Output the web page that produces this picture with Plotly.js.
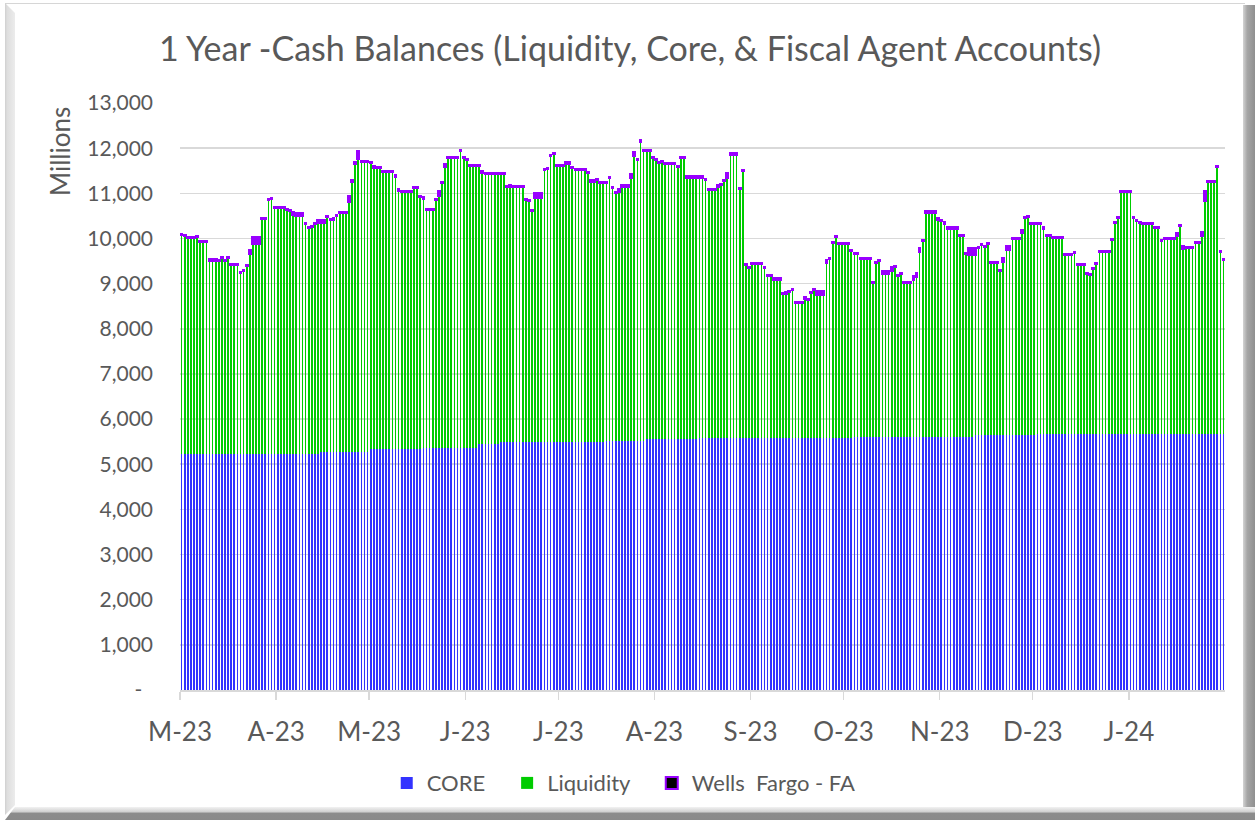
<!DOCTYPE html>
<html>
<head>
<meta charset="utf-8">
<script src="https://cdn.plot.ly/plotly-3.0.1.min.js"></script>
<style>
  html, body { margin:0; padding:0; background:#ffffff; }
  #wrap { position:relative; width:1255px; height:820px; overflow:hidden; background:#ffffff; }
  #chart { position:absolute; left:0; top:0; width:1255px; height:820px; z-index:2; }
  .fr { position:absolute; z-index:1; }
  #ftop { left:5px; top:3px; width:1240px; height:1px; background:#d6d6d6; }
  #fleft { left:5px; top:3px; width:10px; height:812px; background:linear-gradient(to right,#cfcfcf 0,#dedede 20%,#ececec 100%); clip-path:polygon(0 0,100% 10px,100% calc(100% - 10px),0 100%); }
  #fright { left:1243px; top:5px; width:12px; height:815px; background:linear-gradient(to right,#d4d4d4 0,#a6a6a6 35%,#8f8f8f 100%); }
  #fbottom { left:5px; top:807px; width:1250px; height:13px; background:linear-gradient(to bottom,#f2f2f2 0,#d2d2d2 35%,#8c8c8c 50%,#8a8a8a 100%); clip-path:polygon(10px 0,100% 0,100% 100%,0 100%); }
</style>
</head>
<body>
<div id="wrap">
  <div class="fr" id="ftop"></div>
  <div class="fr" id="fleft"></div>
  <div class="fr" id="fright"></div>
  <div class="fr" id="fbottom"></div>
  <div id="chart"></div>
</div>
<script>
// ---------------- DATA (millions, daily, 2023-03-01 .. 2024-01-31) ----------------
const startDate = '2023-03-01';
const monthTickDates = ['2023-03-01','2023-04-01','2023-05-01','2023-06-01','2023-07-01','2023-08-01','2023-09-01','2023-10-01','2023-11-01','2023-12-01','2024-01-01'];
const monthTickLabels = ['M-23','A-23','M-23','J-23','J-23','A-23','S-23','O-23','N-23','D-23','J-24'];
const yTickVals = [0,1000,2000,3000,4000,5000,6000,7000,8000,9000,10000,11000,12000,13000];
const yTickText = ['-\u00a0\u00a0','1,000','2,000','3,000','4,000','5,000','6,000','7,000','8,000','9,000','10,000','11,000','12,000','13,000'];

// CORE
const coreMar = [5230,5230,5230,5230,5230,5230,5230,5230,5230,5230,
                 5230,5230,5230,5230,5230,5230,5230,5230,5230,5230,
                 5230,5230,5230,5230,5230,5230,5230,5230,5230,5230,5230];
const coreApr = [5230,5230,5230,5230,5230,5230,5230,5230,5230,5230,5230,5230,5230,5230,
                 5270,5270,5270,5270,5270,5270,5270,5270,5270,5270,5270,5270,5270,5270,5270,5270];
const coreMay = [5345,5345,5345,5345,5345,5345,5345,5345,5345,5345,5345,5345,5345,5345,5345,5345,5345,
                 5365,5365,5365,5365,5365,5365,5365,5365,5365,5365,5365,5365,5365,5365];
const coreJun = [5365,5365,5365,5365,
                 5455,5455,5455,5455,5455,5455,5455,
                 5500,5500,5500,5500,5500,5500,5500,5500,5500,5500,5500,5500,5500,5500,5500,5500,5500,5500,5500];
const coreJul = [5500,5500,5500,5500,5500,5500,5500,5500,5500,5500,5500,5500,5500,5500,5500,
                 5520,5520,5520,5520,5520,5520,5520,5520,5520,5520,5520,5520,5520,
                 5560,5560,5560];
const coreAug = [5560,5560,5560,5560,5560,5560,5560,5560,5560,5560,5560,5560,5560,5560,
                 5590,5590,5590,5590,5590,5590,5590,5590,5590,5590,5590,5590,5590,5590,5590,5590,5590];
const coreSep = [5590,5590,5590,5590,5590,5590,5590,5590,5590,5590,
                 5590,5590,5590,5590,5590,5590,5590,5590,5590,5590,
                 5590,5590,5590,5590,5590,5590,5590,5590,5590,5590];
const coreOct = [5590,5590,5590,
                 5610,5610,5610,5610,5610,5610,5610,5610,5610,5610,5610,5610,5610,5610,
                 5610,5610,5610,5610,5610,5610,5610,5610,5610,5610,5610,5610,5610,5610];
const coreNov = [5610,5610,5610,5610,5610,5610,5610,5610,5610,5610,5610,
                 5640,5640,5640,5640,5640,5640,5640,5640,5640,5640,5640,5640,5640,5640,5640,5640,5640,5640,5640];
const coreDec = [5640,
                 5660,5660,5660,5660,5660,5660,5660,5660,5660,5660,5660,5660,5660,5660,
                 5660,5660,5660,5660,5660,5660,5660,5660,5660,5660,5660,5660,5660,5660,
                 5680,5680];
const coreJan = [5680,5680,5680,5680,5680,5680,5680,5680,5680,5680,
                 5680,5680,5680,5680,5680,5680,5680,5680,5680,5680,
                 5680,5680,5680,5680,5680,5680,5680,5680,5680,5680,5680];

// Liquidity
const liqMar = [4850,4830,4780,4780,4780,4800,4690,4690,4690,4280,4280,4280,4260,4330,4260,4330,4190,4190,4190,4005,4040,4160,4415,4650,4650,4650,5200,5200,5630,5640,5450];
const liqApr = [5450,5450,5450,5390,5370,5280,5260,5260,5260,5080,5000,5030,5080,5120,5080,5080,5210,5130,5150,5220,5300,5300,5300,5530,5990,6390,6480,6430,6430,6430];
const liqMay = [6325,6225,6205,6205,6135,6135,6135,6135,6025,5715,5675,5675,5675,5685,5765,5765,5575,5520,5270,5270,5270,5495,5585,5855,6215,6415,6415,6415,6415,6565,6410];
const liqJun = [6365,6230,6230,6230,6140,6005,5965,5965,5965,5965,5965,5920,5920,5630,5650,5640,5640,5640,5640,5350,5330,5110,5395,5395,5395,6015,6030,6320,6370,6095];
const liqJul = [6095,6095,6160,6160,6060,6020,6015,6015,6015,5940,5760,5760,5800,5735,5735,5715,5820,5595,5480,5500,5630,5630,5630,5810,6305,6220,6625,6425,6385,6385,6215];
const liqAug = [6180,6110,6135,6090,6090,6090,6090,6020,6230,6230,5790,5790,5790,5790,5760,5760,5710,5480,5480,5480,5560,5600,5690,5745,6250,6250,6250,5500,5895,3820,3760];
const liqSep = [3845,3845,3845,3845,3750,3580,3580,3500,3500,3500,3180,3190,3230,3270,2985,2985,2985,3080,3045,3200,3260,3155,3155,3155,3860,3950,4300,4440,4290,4290];
const liqOct = [4290,4290,4130,4050,4050,3930,3930,3930,3930,3410,3850,3890,3600,3600,3600,3680,3765,3560,3595,3410,3410,3410,3480,3530,4080,4335,4965,4965,4965,4965,4810];
const liqNov = [4780,4720,4610,4610,4610,4610,4445,4445,4045,4020,4020,3990,4155,4210,4170,4230,3820,3820,3820,3640,3830,4115,4115,4355,4355,4355,4490,4820,4835,4675];
const liqDec = [4675,4655,4655,4560,4395,4395,4345,4345,4345,4345,3965,3965,3965,4020,3750,3750,3750,3560,3530,3670,3770,4035,4035,4035,4035,4310,4685,4800,5375,5355,5355];
const liqJan = [5355,4780,4700,4670,4630,4630,4630,4630,4560,4560,4265,4300,4300,4300,4300,4380,4590,4095,4115,4115,4115,4210,4210,4375,5145,5560,5560,5560,5900,4020,3840];

// Wells Fargo - FA
const faMar = [25,25,25,25,25,25,25,25,25,25,25,25,25,25,25,25,25,25,25,25,25,25,95,150,150,150,25,25,25,25,25];
const faApr = [25,25,25,25,25,80,80,80,80,25,25,25,25,60,60,60,25,25,25,25,25,25,25,150,25,25,190,25,25,25];
const faMay = [25,25,25,25,25,25,25,25,25,25,25,25,25,25,25,25,25,25,25,25,25,25,100,25,80,25,25,25,25,25,25];
const faJun = [25,25,25,25,25,25,25,25,25,25,25,25,25,25,25,25,25,25,25,25,25,25,115,115,115,25,25,25,25,25];
const faJul = [25,25,25,25,25,25,25,25,25,25,25,25,25,25,25,25,25,25,25,80,25,25,25,100,95,25,25,25,25,25,25];
const faAug = [25,25,25,25,25,25,25,25,25,25,25,25,25,25,25,25,25,25,25,25,25,25,25,115,60,60,60,25,25,25,25];
const faSep = [25,25,25,25,25,25,25,25,25,25,25,25,25,25,25,25,25,25,25,25,25,95,95,95,80,25,25,25,25,25];
const faOct = [25,25,25,25,25,25,25,25,25,25,25,25,80,80,80,80,25,25,25,25,25,25,70,95,100,25,25,25,25,25,25];
const faNov = [25,25,25,25,25,25,25,25,25,150,150,150,25,25,25,25,25,25,25,25,100,85,85,25,25,25,50,25,25,25];
const faDec = [25,25,25,25,25,25,25,25,25,25,25,25,25,25,25,25,25,25,25,25,25,25,25,25,25,25,25,25,25,25,25];
const faJan = [25,25,25,25,25,25,25,25,25,25,25,25,25,25,25,50,25,65,25,25,25,25,25,95,225,25,25,25,25,25,25];

const core = [].concat(coreMar,coreApr,coreMay,coreJun,coreJul,coreAug,coreSep,coreOct,coreNov,coreDec,coreJan);
const liquidity = [].concat(liqMar,liqApr,liqMay,liqJun,liqJul,liqAug,liqSep,liqOct,liqNov,liqDec,liqJan);
const wellsFargoFA = [].concat(faMar,faApr,faMay,faJun,faJul,faAug,faSep,faOct,faNov,faDec,faJan);

// daily categories (one per day, placed mid-day)
const DAY = 86400000;
const t0 = Date.parse(startDate + 'T12:00:00Z');
const days = core.map((_, i) => new Date(t0 + i * DAY).toISOString().slice(0, 19).replace('T', ' '));

if (core.length !== 337 || liquidity.length !== 337 || wellsFargoFA.length !== 337) {
  throw new Error('length mismatch ' + core.length + ' ' + liquidity.length + ' ' + wellsFargoFA.length);
}

// ---------------- CHART ----------------
const barW = 0.55 * DAY;
const grey = '#595959';
const traces = [
  { type:'bar', name:'CORE\u00a0\u00a0\u00a0', x:days, y:core, width:barW, marker:{color:'#3333FF', line:{width:0}} },
  { type:'bar', name:'Liquidity\u00a0\u00a0\u00a0', x:days, y:liquidity, width:barW, marker:{color:'#00CC00', line:{width:0}} },
  { type:'bar', name:'Wells\u00a0 Fargo - FA', x:days, y:wellsFargoFA, width:barW, marker:{color:'#000000', line:{color:'#9900FF', width:2}} }
];

const layout = {
  width:1255, height:820,
  paper_bgcolor:'rgba(0,0,0,0)', plot_bgcolor:'rgba(0,0,0,0)',
  margin:{l:180, r:30, t:103, b:130},
  barmode:'stack', bargap:0,
  font:{family:'Lato, "Open Sans", sans-serif', color:grey},
  title:{text:'1 Year -Cash Balances (Liquidity, Core, & Fiscal Agent Accounts)',
         font:{family:'Lato, sans-serif', size:34, color:grey},
         x:0.502, xref:'container', xanchor:'center', y:0.94, yref:'container', yanchor:'middle'},
  xaxis:{type:'date', range:['2023-03-01','2024-02-01'], tickmode:'array',
         tickvals:monthTickDates, ticktext:monthTickLabels,
         ticks:'outside', ticklen:8, tickwidth:1.5, tickcolor:'#d9d9d9',
         showline:true, linecolor:'#d9d9d9', linewidth:1.5, showgrid:false, zeroline:false,
         tickfont:{size:26, color:grey}, ticklabelstandoff:10},
  yaxis:{range:[0,13000], tickmode:'array', tickvals:yTickVals, ticktext:yTickText,
         showgrid:true, gridcolor:'#d9d9d9', gridwidth:1.5, zeroline:false, showline:false,
         ticks:'', tickfont:{size:21, color:grey}, ticklabelstandoff:26},
  legend:{orientation:'h', x:0.497, xref:'container', xanchor:'center', y:0.045, yref:'container', yanchor:'middle',
          font:{size:22, color:grey}, traceorder:'normal', bgcolor:'rgba(0,0,0,0)'},
  annotations:[{text:'Millions', textangle:-90, xref:'paper', yref:'paper', x:-0.1148, y:0.9165,
                xanchor:'center', yanchor:'middle', showarrow:false, font:{size:26, color:grey}}],
  showlegend:true
};

Plotly.newPlot('chart', traces, layout, {staticPlot:true, displayModeBar:false});
</script>
</body>
</html>
